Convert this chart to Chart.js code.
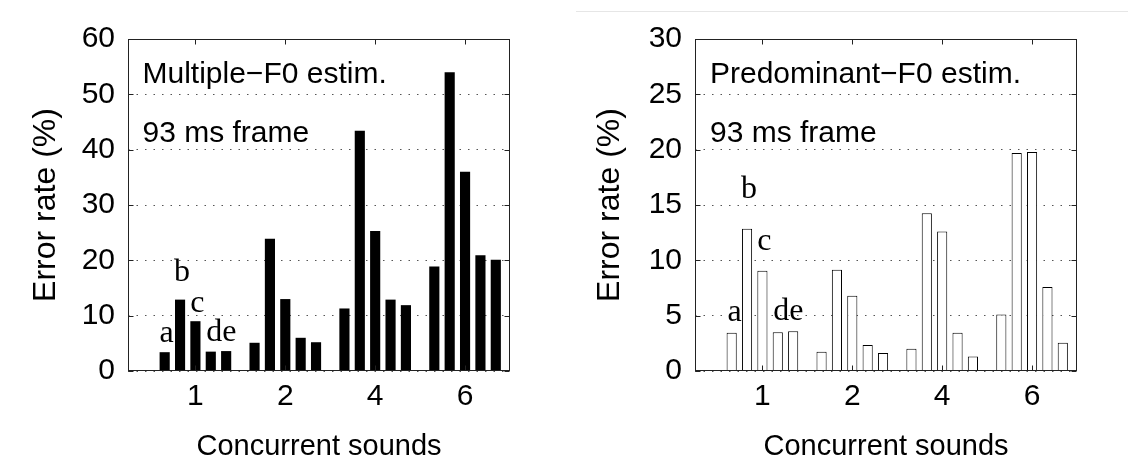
<!DOCTYPE html>
<html><head><meta charset="utf-8">
<script src="https://cdn.jsdelivr.net/npm/chart.js@4.4.1/dist/chart.umd.min.js"></script>
<style>
html,body{margin:0;padding:0;background:#fff;}
#wrap{position:relative;width:1128px;height:461px;overflow:hidden;background:#fff;}
.panel{position:absolute;top:0;width:564px;height:461px;}
#rule{position:absolute;left:576px;top:11px;width:552px;height:0;border-top:1px solid #e6e6e6;}
</style></head><body>
<div id="wrap">
<div class="panel" style="left:0"><canvas id="c1" width="564" height="461"></canvas></div>
<div class="panel" style="left:564px"><canvas id="c2" width="564" height="461"></canvas></div>
<div id="rule"></div>
</div>
<script>
// ---- data ----
const categories = ['1', '2', '4', '6'];
const seriesNames = ['a', 'b', 'c', 'd', 'e'];

const multiA = [3.4, 5.1, 11.3, 18.9];
const multiB = [12.9, 23.9, 43.4, 54.0];
const multiC = [9.0, 13.0, 25.3, 36.0];
const multiD = [3.5, 6.0, 12.9, 20.9];
const multiE = [3.6, 5.2, 11.9, 20.1];

const predA = [3.45, 1.75, 2.0, 5.1];
const predB = [12.85, 9.15, 14.25, 19.7];
const predC = [9.05, 6.8, 12.6, 19.8];
const predD = [3.5, 2.35, 3.45, 7.6];
const predE = [3.6, 1.63, 1.3, 2.56];

const multiTicks = [0, 10, 20, 30, 40, 50, 60];
const predTicks = [0, 5, 10, 15, 20, 25, 30];

const multiText = ['Multiple\u2212F0 estim.', '93 ms frame'];
const predText = ['Predominant\u2212F0 estim.', '93 ms frame'];
const xTitle = 'Concurrent sounds';
const yTitle = 'Error rate (%)';

// ---- drawing ----
const SANS = 'Liberation Sans, Arial, sans-serif';
const SERIF = 'Liberation Serif, Times New Roman, serif';

const framePlugin = {
  id: 'frame',
  afterDatasetsDraw(chart, args, opts) {
    const {ctx, chartArea: a, scales} = chart;
    ctx.save();
    ctx.strokeStyle = '#222';
    ctx.lineWidth = 1;
    const L = Math.round(a.left) + 0.5, R = Math.round(a.right) - 0.5;
    const T = Math.round(a.top) + 0.5, B = Math.round(a.bottom) - 0.5;
    ctx.strokeRect(L, T, R - L, B - T);
    const tl = 5;
    ctx.beginPath();
    scales.x.ticks.forEach(t => {
      const x = Math.round(scales.x.getPixelForValue(t.value)) + 0.5;
      ctx.moveTo(x, T); ctx.lineTo(x, T + tl);
      ctx.moveTo(x, B); ctx.lineTo(x, B - tl);
    });
    scales.y.ticks.forEach(t => {
      const y = Math.round(scales.y.getPixelForValue(t.value)) + 0.5;
      ctx.moveTo(L, y); ctx.lineTo(L + tl, y);
      ctx.moveTo(R, y); ctx.lineTo(R - tl, y);
    });
    ctx.stroke();
    ctx.restore();
  },
  afterDraw(chart, args, opts) {
    const {ctx, chartArea: a, scales} = chart;
    ctx.save();
    ctx.fillStyle = '#000';
    ctx.textBaseline = 'alphabetic';
    ctx.textAlign = 'left';
    ctx.font = '30px ' + SANS;
    opts.lines.forEach((s, i) => {
      ctx.fillText(s, a.left + opts.textDx, a.top + opts.baselines[i]);
    });
    ctx.font = '32px ' + SERIF;
    ctx.textAlign = 'center';
    opts.letters.forEach(l => {
      const xs = l.ds.map(d => chart.getDatasetMeta(d).data[0].x);
      const x = xs.reduce((p, c) => p + c, 0) / xs.length + l.dx;
      const y = scales.y.getPixelForValue(l.v);
      ctx.fillText(l.t, x, y);
    });
    ctx.restore();
  }
};

function makeChart(id, series, fill, bw, yTicks, yMax, yWidth, rightPad, lines, textDx, letters) {
  const datasets = seriesNames.map((n, i) => ({
    label: n,
    data: categories.map((c, j) => ({x: j + 1, y: series[i][j]})),
    backgroundColor: fill,
    borderColor: '#000',
    borderWidth: bw,
    borderSkipped: 'start',
    categoryPercentage: 0.855,
    barPercentage: 0.66
  }));
  return new Chart(document.getElementById(id), {
    type: 'bar',
    data: {datasets},
    plugins: [framePlugin],
    options: {
      responsive: false,
      animation: false,
      devicePixelRatio: 1,
      layout: {padding: {left: 0, right: rightPad, top: 39, bottom: 0}},
      plugins: {
        legend: {display: false},
        tooltip: {enabled: false},
        title: {display: false},
        frame: {lines, textDx, baselines: [44, 103], letters}
      },
      scales: {
        x: {
          type: 'linear', min: 0.25, max: 4.5, offset: false,
          afterBuildTicks: s => { s.ticks = categories.map((c, i) => ({value: i + 1})); },
          afterFit: s => { s.height = 90; },
          grid: {display: false, drawTicks: false, offset: false},
          border: {display: false},
          ticks: {
            callback: v => categories[v - 1] ?? '',
            font: {family: SANS, size: 30}, color: '#000', padding: 8,
            maxRotation: 0, autoSkip: false
          },
          title: {display: true, text: xTitle, color: '#000',
                  font: {family: SANS, size: 29, lineHeight: 1}, padding: {top: 0, bottom: 0}}
        },
        y: {
          min: 0, max: yMax,
          afterBuildTicks: s => { s.ticks = yTicks.map(v => ({value: v})); },
          afterFit: s => { s.width = yWidth; },
          grid: {color: '#555', lineWidth: 1, drawTicks: false},
          border: {display: false, dash: [1.5, 7]},
          ticks: {font: {family: SANS, size: 30}, color: '#000', padding: 13},
          title: {display: true, text: yTitle, color: '#000',
                  font: {family: SANS, size: 32, lineHeight: 1}, padding: {top: 30, bottom: 0}}
        }
      }
    }
  });
}

makeChart('c1', [multiA, multiB, multiC, multiD, multiE], '#000', 0, multiTicks, 60, 128, 54,
  multiText, 14.5,
  [{t: 'a', ds: [0], v: 5.2, dx: 2}, {t: 'b', ds: [1], v: 16.2, dx: 2},
   {t: 'c', ds: [2], v: 10.6, dx: 2}, {t: 'de', ds: [3, 4], v: 5.4, dx: 3}]);

makeChart('c2', [predA, predB, predC, predD, predE], '#fff', 1, predTicks, 30, 131, 51,
  predText, 15,
  [{t: 'a', ds: [0], v: 4.56, dx: 3}, {t: 'b', ds: [1], v: 15.6, dx: 2},
   {t: 'c', ds: [2], v: 10.9, dx: 2}, {t: 'de', ds: [3, 4], v: 4.62, dx: 3}]);
</script>
</body></html>
